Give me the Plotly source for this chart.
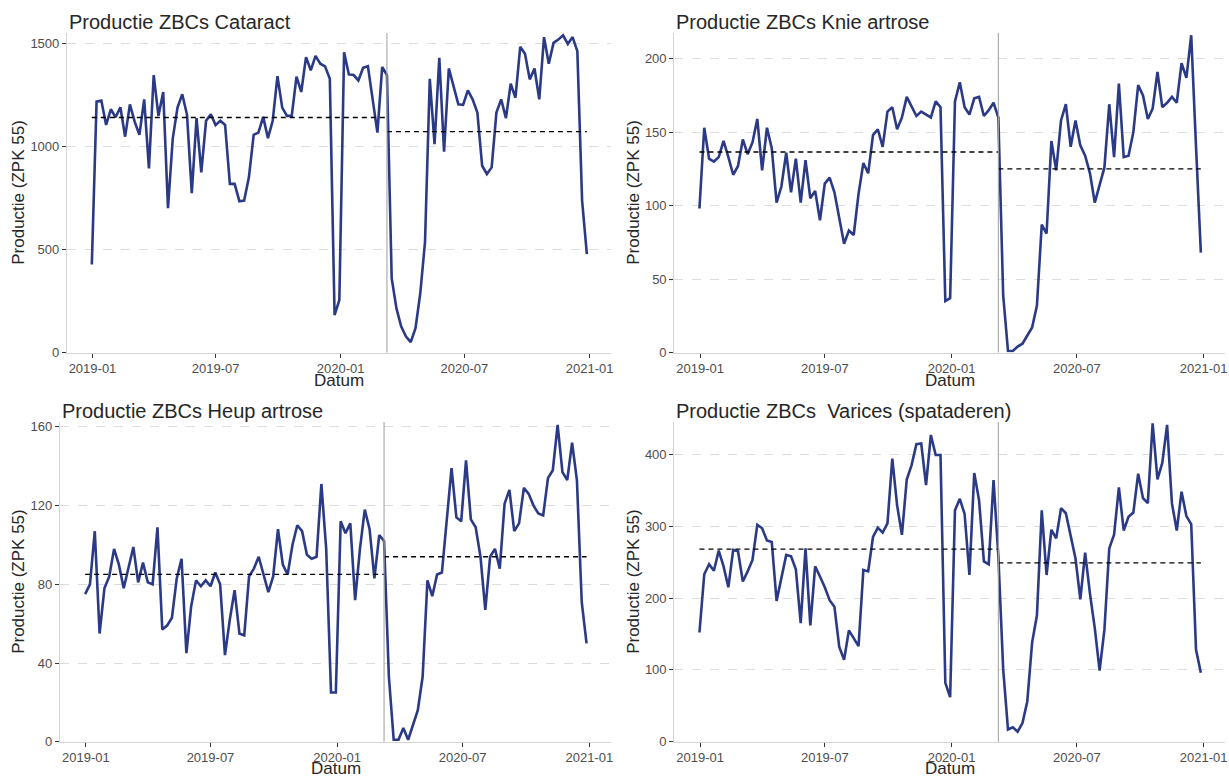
import pandas as pd
import plotly.graph_objects as go

# ---------------- data ----------------
start_date = "2018-12-31"
n_weeks = 105
dates = pd.date_range(start_date, periods=n_weeks, freq="7D")
break_date = "2020-03-09"

cataract = [427, 1217, 1222, 1104, 1180, 1141, 1190, 1047, 1204, 1120,
            1056, 1228, 893, 1346, 1148, 1264, 700, 1038, 1188, 1253,
            1153, 773, 1137, 874, 1124, 1156, 1103, 1124, 1104, 818,
            818, 734, 737, 850, 1056, 1067, 1143, 1040, 1124, 1341,
            1188, 1148, 1148, 1338, 1264, 1433, 1369, 1439, 1401, 1388,
            1328, 182, 254, 1457, 1349, 1346, 1320, 1381, 1389, 1236,
            1067, 1385, 1346,
            359, 214, 126, 77, 50, 118, 287, 536, 1328, 1011,
            1430, 974, 1378, 1293, 1204, 1201, 1272, 1228, 1164, 906,
            866, 898, 1164, 1228, 1137, 1304, 1236, 1483, 1449, 1325,
            1378, 1228, 1530, 1401, 1502, 1518, 1539, 1497, 1530, 1462,
            737, 477]

knie = [98, 153, 132, 130, 133, 144, 133, 121, 127, 145,
        135, 143, 159, 124, 153, 139, 102, 113, 136, 109,
        132, 102, 131, 105, 110, 90, 115, 119, 109, 92,
        74, 83, 80, 108, 129, 122, 148, 152, 140, 164,
        167, 152, 160, 174, 167, 161, 164, 162, 160, 171,
        167, 35, 37, 171, 184, 167, 162, 173, 174, 161,
        165, 170, 160,
        39, 1, 1, 4, 6, 12, 17, 32, 87, 81,
        144, 124, 158, 169, 140, 158, 141, 134, 122, 102,
        115, 126, 169, 133, 183, 133, 134, 150, 182, 175,
        159, 166, 191, 167, 170, 174, 170, 197, 187, 216,
        140, 68]

heup = [75, 80, 107, 55, 78, 84, 98, 90, 78, 89,
        99, 81, 91, 81, 80, 109, 57, 59, 63, 83,
        93, 45, 69, 82, 79, 82, 79, 86, 80, 44,
        62, 77, 55, 54, 84, 88, 94, 85, 76, 84,
        108, 90, 85, 100, 110, 107, 95, 93, 94, 131,
        98, 25, 25, 112, 106, 111, 72, 98, 118, 108,
        83, 105, 102,
        33, 1, 1, 7, 1, 8, 16, 33, 82, 74,
        85, 86, 111, 139, 114, 112, 143, 113, 109, 94,
        67, 94, 98, 88, 121, 128, 107, 111, 129, 126,
        120, 116, 115, 134, 138, 161, 137, 133, 152, 133,
        71, 50]

varices = [152, 233, 247, 238, 266, 244, 215, 267, 265, 223,
           237, 253, 302, 297, 280, 278, 196, 229, 260, 258,
           240, 165, 269, 162, 244, 230, 215, 197, 188, 132,
           114, 155, 144, 133, 239, 237, 285, 298, 291, 304,
           394, 329, 288, 365, 385, 414, 415, 357, 427, 399,
           399, 82, 62, 322, 338, 317, 232, 374, 336, 251,
           247, 364, 258,
           101, 17, 20, 14, 26, 56, 138, 176, 322, 232,
           295, 283, 325, 318, 288, 255, 198, 263, 206, 158,
           99, 156, 269, 288, 354, 294, 313, 319, 373, 339,
           332, 443, 365, 388, 441, 332, 294, 348, 314, 303,
           128, 96]

titles = ["Productie ZBCs Cataract", "Productie ZBCs Knie artrose",
          "Productie ZBCs Heup artrose", "Productie ZBCs\u00a0 Varices (spataderen)"]
pre_means = [1140, 136.5, 85, 268]
post_means = [1072, 125, 94, 249]
y_tickvals = [[0, 500, 1000, 1500], [0, 50, 100, 150, 200],
              [0, 40, 80, 120, 160], [0, 100, 200, 300, 400]]
y_max = [1550, 217.5, 162.5, 445]
x_tickvals = ["2019-01-01", "2019-07-01", "2020-01-01", "2020-07-01", "2021-01-01"]
x_ticktext = ["2019-01", "2019-07", "2020-01", "2020-07", "2021-01"]
series = [cataract, knie, heup, varices]

# ---------------- layout geometry (pixels) ----------------
W, H = 1229, 779
x_doms_px = [(67, 611), (674.3, 1225.3), (60, 611), (674.3, 1225.3)]
y_doms_px = [(33, 352.5), (33, 352.5), (422, 741.7), (422, 741.7)]

LINE_COLOR = "#2b3a86"
FONT = "Liberation Sans, Arial, sans-serif"
TICK_SIZE = 13

fig = go.Figure()
layout = dict(
    width=W, height=H, autosize=False,
    margin=dict(l=0, r=0, t=0, b=0, pad=0),
    paper_bgcolor="white", plot_bgcolor="white",
    showlegend=False,
    font=dict(family=FONT, color="#222222"),
)
annotations = []
shapes = []

for i, vals in enumerate(series):
    ax = "" if i == 0 else str(i + 1)
    xa, ya = "x" + ax, "y" + ax
    (x0p, x1p), (y0p, y1p) = x_doms_px[i], y_doms_px[i]
    layout["xaxis" + ax] = dict(
        domain=[x0p / W, x1p / W],
        anchor=ya, automargin=False,
        type="date",
        range=["2018-11-24 12:00", "2021-02-01 12:00"],
        tickvals=x_tickvals, ticktext=x_ticktext,
        ticks="outside", ticklen=4, tickcolor="#333333", tickwidth=1,
        tickfont=dict(size=TICK_SIZE, color="#4d4d4d", family=FONT),
        showgrid=False, zeroline=False,
        showline=True, linecolor="#d4d4d4", linewidth=1.2,
    )
    layout["yaxis" + ax] = dict(
        domain=[1 - y1p / H, 1 - y0p / H],
        anchor=xa, automargin=False,
        range=[0, y_max[i]],
        tickvals=y_tickvals[i],
        ticks="outside", ticklen=4, tickcolor="#333333", tickwidth=1,
        tickfont=dict(size=TICK_SIZE, color="#4d4d4d", family=FONT),
        showgrid=True, gridcolor="#dcdcdc", gridwidth=1, griddash="dash",
        zeroline=False,
        showline=True, linecolor="#d4d4d4", linewidth=1.2,
    )
    shapes.append(dict(type="line", xref=xa, yref=ya + " domain",
                       x0=break_date, x1=break_date, y0=0, y1=1,
                       line=dict(color="#a6a6a6", width=1.1), layer="above"))
    fig.add_trace(go.Scatter(x=dates, y=vals, mode="lines",
                             line=dict(color=LINE_COLOR, width=2.6),
                             xaxis=xa, yaxis=ya, hoverinfo="skip"))
    fig.add_trace(go.Scatter(x=[dates[0], pd.Timestamp(break_date)],
                             y=[pre_means[i], pre_means[i]], mode="lines",
                             line=dict(color="black", width=1.3, dash="5px,4px"),
                             xaxis=xa, yaxis=ya, hoverinfo="skip"))
    fig.add_trace(go.Scatter(x=[pd.Timestamp(break_date), dates[-1]],
                             y=[post_means[i], post_means[i]], mode="lines",
                             line=dict(color="black", width=1.3, dash="5px,4px"),
                             xaxis=xa, yaxis=ya, hoverinfo="skip"))
    # panel title
    annotations.append(dict(text=titles[i], xref="paper", yref="paper",
                            x=(x0p + 0.5) / W, xanchor="left",
                            y=1 - (y0p - 11) / H, yanchor="middle",
                            showarrow=False, borderpad=0,
                            font=dict(size=20, color="#262626", family=FONT)))
    # y-axis title
    ytx = 19 if i in (0, 2) else 634
    annotations.append(dict(text="Productie (ZPK 55)", xref="paper", yref="paper",
                            x=ytx / W, xanchor="center",
                            y=1 - ((y0p + y1p) / 2) / H, yanchor="middle",
                            textangle=-90, showarrow=False, borderpad=0,
                            font=dict(size=17, color="#262626", family=FONT)))
    # x-axis title (kept inside the figure so it never pushes margins)
    if i < 2:
        dy, yanc = 1 - (y1p + 28.5) / H, "middle"
    else:
        dy, yanc = 0.0, "bottom"
    annotations.append(dict(text="Datum", xref="paper", yref="paper",
                            x=((x0p + x1p) / 2) / W, xanchor="center",
                            y=dy, yanchor=yanc,
                            showarrow=False, borderpad=0,
                            font=dict(size=17, color="#262626", family=FONT)))

layout["annotations"] = annotations
layout["shapes"] = shapes
fig.update_layout(**layout)

post = (
    "document.documentElement.style.margin='0';"
    "document.body.style.margin='0';"
    "document.body.style.overflow='hidden';"
)
fig.write_html("out.html", config={"displayModeBar": False}, post_script=post)
